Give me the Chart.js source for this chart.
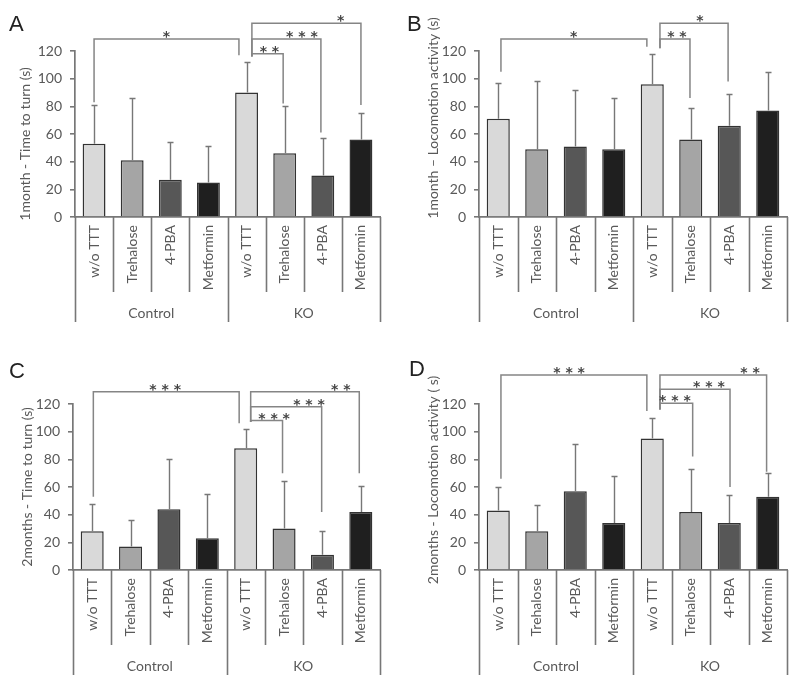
<!DOCTYPE html>
<html>
<head>
<meta charset="utf-8">
<script src="https://cdn.jsdelivr.net/npm/chart.js@4.4.1/dist/chart.umd.min.js"></script>
<style>
  html, body { margin: 0; padding: 0; background: #fff; }
  #wrap { position: relative; width: 800px; height: 679px; }
  .panel { position: absolute; }
</style>
</head>
<body>
<div id="wrap">
  <div class="panel" style="left:0;top:0"><canvas id="chartA" width="400" height="340"></canvas></div>
  <div class="panel" style="left:400px;top:0"><canvas id="chartB" width="400" height="340"></canvas></div>
  <div class="panel" style="left:0;top:340px"><canvas id="chartC" width="400" height="339"></canvas></div>
  <div class="panel" style="left:400px;top:340px"><canvas id="chartD" width="400" height="339"></canvas></div>
</div>
<script>
// categories and groups (same for every panel)
var categories = ["w/o TTT", "Trehalose", "4-PBA", "Metformin", "w/o TTT", "Trehalose", "4-PBA", "Metformin"];
var groups = ["Control", "KO"];
var yTicks = [0, 20, 40, 60, 80, 100, 120];

// mean and upper SD
var meanA = [53, 41, 27, 25, 90, 46, 30, 56];
var sdA = [28, 45, 27, 26, 22, 34, 27, 19];
var meanB = [71, 49, 51, 49, 96, 56, 66, 77];
var sdB = [26, 49, 41, 37, 22, 23, 23, 28];
var meanC = [28, 17, 44, 23, 88, 30, 11, 42];
var sdC = [20, 19, 36, 32, 14, 34, 17, 19];
var meanD = [43, 28, 57, 34, 95, 42, 34, 53];
var sdD = [17, 19, 34, 34, 15, 31, 20, 17];

// significance brackets: [from bar, to bar, level, from leg end, to leg end, stars, stars at]
var bracketsA = [
  [0.0, 3.8, 128.7, 83, 117, "*", 1.9],
  [4.14, 7.0, 140, 116, 81, "*", 6.47],
  [4.14, 5.95, 128.7, 116, 61, "***", 5.45],
  [4.14, 4.96, 118, 116, 82, "**", 4.6]
];
var bracketsB = [
  [0.07, 3.86, 128.7, 105, 123, "*", 1.96],
  [4.2, 5.97, 140, 122, 98, "*", 5.24],
  [4.2, 4.98, 128.7, 122, 86, "**", 4.64]
];
var bracketsC = [
  [0.03, 3.83, 128.9, 53, 106, "***", 1.9],
  [4.13, 6.96, 128.9, 107, 70, "**", 6.48],
  [4.13, 5.98, 118, 107, 42, "***", 5.65],
  [4.13, 4.96, 108, 107, 70, "***", 4.74]
];
var bracketsD = [
  [0.07, 3.86, 141, 66, 115, "***", 1.84],
  [4.2, 6.97, 141, 116, 71, "**", 6.54],
  [4.2, 6.02, 130.6, 116, 60, "***", 5.47],
  [4.2, 5.05, 120.5, 116, 82, "***", 4.59]
];

var barColors = ["#d9d9d9", "#a5a5a5", "#575757", "#1f1f1f", "#d9d9d9", "#a5a5a5", "#575757", "#1f1f1f"];
var textGray = "#595959";
var lineGray = "#777";

Chart.defaults.font.family = "Lato";
Chart.defaults.color = textGray;

// error bars, brackets, grouped x labels, titles
var decor = {
  id: "decor",
  afterDatasetsDraw: function (chart) {
    var o = chart.options.plugins.decor;
    var ctx = chart.ctx;
    var xs = chart.scales.x, ys = chart.scales.y;
    var meta = chart.getDatasetMeta(0);
    var data = chart.data.datasets[0].data;
    var bottom = chart.chartArea.bottom;

    ctx.save();
    // error bars (upper only)
    ctx.strokeStyle = lineGray;
    ctx.lineWidth = 1.4;
    o.sd.forEach(function (sd, i) {
      var bar = meta.data[i];
      var top = Math.round(ys.getPixelForValue(data[i] + sd)) + 0.5;
      var cx = Math.round(bar.x) + 0.5;
      ctx.beginPath();
      ctx.moveTo(cx, bar.y);
      ctx.lineTo(cx, top);
      ctx.moveTo(cx - 3, top);
      ctx.lineTo(cx + 3, top);
      ctx.stroke();
    });

    // brackets
    ctx.strokeStyle = "#858585";
    ctx.lineWidth = 1.5;
    ctx.fillStyle = "#444";
    ctx.font = "bold 14px 'DejaVu Sans'";
    ctx.textAlign = "center";
    ctx.textBaseline = "alphabetic";
    o.brackets.forEach(function (b) {
      var x1 = xs.getPixelForValue(b[0]), x2 = xs.getPixelForValue(b[1]);
      var yl = ys.getPixelForValue(b[2]);
      ctx.beginPath();
      ctx.moveTo(x1, ys.getPixelForValue(b[3]));
      ctx.lineTo(x1, yl);
      ctx.lineTo(x2, yl);
      ctx.lineTo(x2, ys.getPixelForValue(b[4]));
      ctx.stroke();
      ctx.fillText(b[5].split("").join(" "), xs.getPixelForValue(b[6]), yl + 2);
    });

    // category dividers below the axis
    ctx.strokeStyle = lineGray;
    ctx.lineWidth = 1.6;
    for (var k = 0; k <= categories.length; k++) {
      var bx = Math.round(xs.getPixelForValue(k - 0.5)) + 0.5;
      ctx.beginPath();
      ctx.moveTo(bx, bottom);
      ctx.lineTo(bx, bottom + (k % 4 === 0 ? 105 : 75));
      ctx.stroke();
    }

    // rotated category labels
    ctx.fillStyle = textGray;
    ctx.font = "14px Lato";
    ctx.textAlign = "right";
    ctx.textBaseline = "middle";
    categories.forEach(function (c, i) {
      ctx.save();
      ctx.translate(xs.getPixelForValue(i), bottom + 8);
      ctx.rotate(-Math.PI / 2);
      ctx.fillText(c, 0, 0);
      ctx.restore();
    });

    // group labels
    ctx.textAlign = "center";
    groups.forEach(function (g, j) {
      ctx.fillText(g, xs.getPixelForValue(j * 4 + 1.5), bottom + 96);
    });

    // y title
    ctx.save();
    ctx.translate(o.titleX, o.titleY);
    ctx.rotate(-Math.PI / 2);
    ctx.font = "14px Lato";
    ctx.textBaseline = "middle";
    ctx.fillText(o.title, 0, 0);
    ctx.restore();

    // panel letter
    ctx.fillStyle = "#222";
    ctx.font = "22px 'Liberation Sans'";
    ctx.textAlign = "left";
    ctx.textBaseline = "alphabetic";
    ctx.fillText(o.letter, o.letterX, o.letterY);
    ctx.restore();
  }
};

function makePanel(id, means, sds, brackets, f) {
  var canvas = document.getElementById(id);
  new Chart(canvas.getContext("2d"), {
    type: "bar",
    data: {
      labels: categories,
      datasets: [{
        data: means,
        backgroundColor: barColors,
        borderColor: "#333",
        borderWidth: 1.5,
        barPercentage: 0.6,
        categoryPercentage: 1
      }]
    },
    options: {
      responsive: false,
      animation: false,
      layout: { padding: { left: 0, top: f.top, right: f.right, bottom: 0 } },
      scales: {
        x: {
          ticks: { display: false },
          grid: { display: false },
          border: { display: true, color: lineGray, width: 1.7 },
          afterFit: function (s) { s.height = canvas.height - f.bottom; }
        },
        y: {
          min: 0,
          max: 120,
          afterBuildTicks: function (s) { s.ticks = yTicks.map(function (v) { return { value: v }; }); },
          ticks: { padding: 8, font: { size: 14 }, color: textGray },
          grid: { drawOnChartArea: false, drawTicks: true, tickLength: 5, color: lineGray, lineWidth: 1.6 },
          border: { display: true, color: lineGray, width: 1.7 },
          afterFit: function (s) { s.width = f.left; }
        }
      },
      plugins: {
        legend: { display: false },
        tooltip: { enabled: false },
        decor: {
          sd: sds,
          brackets: brackets,
          title: f.title,
          titleX: f.titleX,
          titleY: f.titleY,
          letter: f.letter,
          letterX: f.letterX,
          letterY: f.letterY
        }
      }
    },
    plugins: [decor]
  });
}

makePanel("chartA", meanA, sdA, bracketsA, {
  left: 75, top: 51, right: 20, bottom: 217,
  title: "1month - Time to turn (s)", titleX: 25, titleY: 144,
  letter: "A", letterX: 9, letterY: 31
});
makePanel("chartB", meanB, sdB, bracketsB, {
  left: 79, top: 51, right: 13, bottom: 217,
  title: "1month \u2013 Locomotion activity (s)", titleX: 33, titleY: 118,
  letter: "B", letterX: 7, letterY: 31
});
makePanel("chartC", meanC, sdC, bracketsC, {
  left: 73, top: 64, right: 20, bottom: 230,
  title: "2months - Time to turn (s)", titleX: 27, titleY: 147,
  letter: "C", letterX: 9, letterY: 38
});
makePanel("chartD", meanD, sdD, bracketsD, {
  left: 79, top: 64, right: 13, bottom: 230,
  title: "2months - Locomotion activity ( s)", titleX: 33, titleY: 140,
  letter: "D", letterX: 9, letterY: 36
});
</script>
</body>
</html>
